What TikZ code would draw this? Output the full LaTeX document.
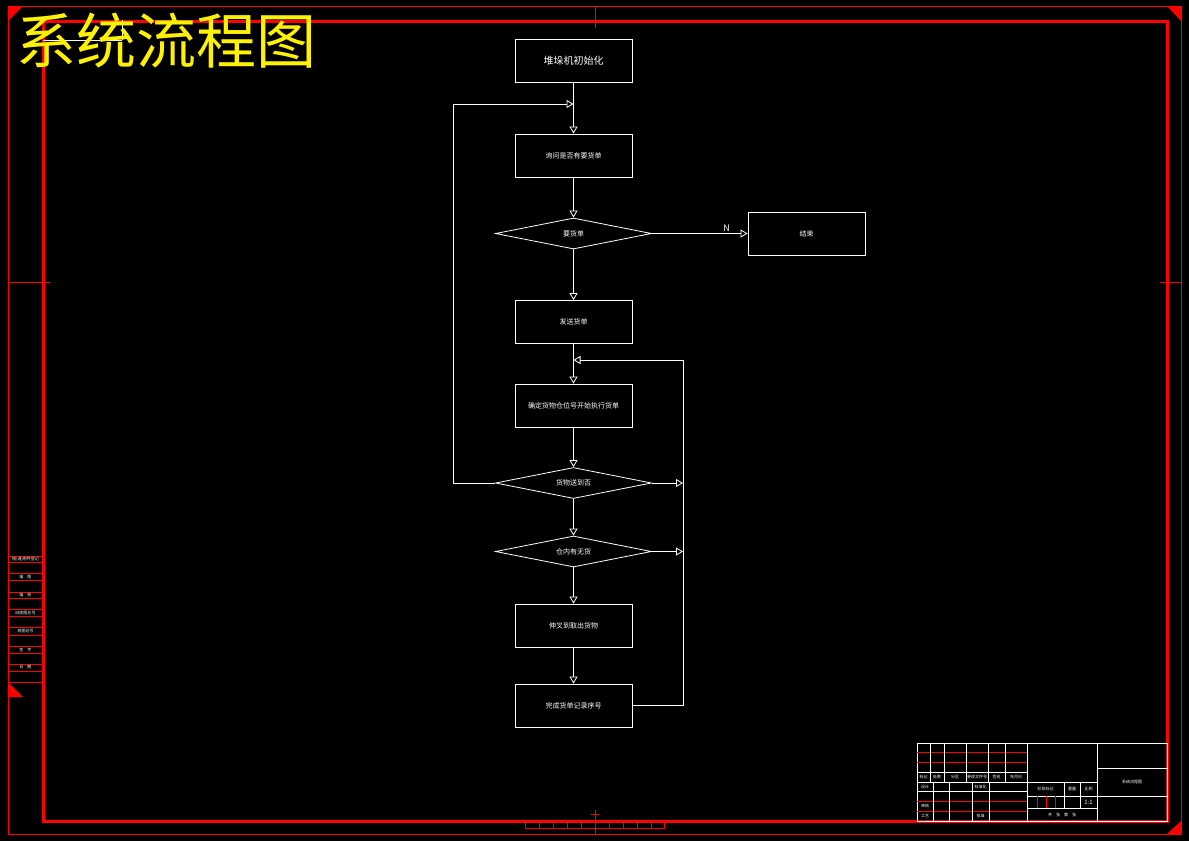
\documentclass[tikz,border=0pt]{standalone}
\usepackage{fontspec}
\setmainfont{Noto Sans CJK SC}
\usetikzlibrary{shapes.geometric,arrows.meta}
\tikzset{
  wl/.style={draw=white, line width=0.8pt},
  boxn/.style={draw=white, line width=0.8pt, rectangle, minimum width=117pt, minimum height=43pt, inner sep=0pt, text=white, font=\fontsize{7}{8}\selectfont},
  decn/.style={draw=white, line width=0.8pt, diamond, aspect=5, minimum width=156pt, minimum height=31pt, inner sep=0pt, text=white, font=\fontsize{7}{8}\selectfont},
  arr/.style={draw=white, line width=0.8pt, -{Triangle[open,length=7pt,width=8pt]}},
  thinred/.style={draw=red, line width=1pt},
  thickred/.style={draw=red, line width=3pt},
  redl/.style={draw=red, line width=0.8pt},
  tb/.style={text=white, font=\fontsize{4}{4}\selectfont, inner sep=0pt}
}
\begin{document}
\begin{tikzpicture}[x=1pt,y=-1pt]
\useasboundingbox (0,0) rectangle (1189,841);
\fill[black] (0,0) rectangle (1189,841);
% outer thin frame
\draw[thinred] (8,6) rectangle (1181,834);
% inner thick frame
\draw[thickred] (43,21) rectangle (1167,821);
% corner triangles
\fill[red] (8,6) -- (23,6) -- (8,21) -- cycle;
\fill[red] (1181,6) -- (1167,6) -- (1181,21) -- cycle;
\fill[red] (1181,834) -- (1167,834) -- (1181,821) -- cycle;
\fill[red] (8,697) -- (8,682) -- (23,697) -- cycle;
% centre marks
\draw[redl] (595,6) -- (595,28);
\draw[redl] (8,282) -- (50,282);
\draw[redl] (1160,282) -- (1181,282);
\draw[redl] (595,810) -- (595,834);
\draw[redl] (591,814) -- (599,814);
% bottom ruler
\draw[redl] (525,821) -- (525,828) -- (664,828) -- (664,821);
\foreach \x in {539,553,567,581,609,623,637,651} \draw[redl] (\x,821) -- (\x,828);
% small artifact top-left
\draw[wl] (43,40) -- (122,40);
\draw[wl] (122,20) -- (122,40);
% title
\node[anchor=west, text=yellow, inner sep=0pt, font=\fontsize{60}{60}\selectfont] at (16,41) {系统流程图};
% left side table
\foreach \y in {556,562,573,580,592,598,609,616,627,635,646,653,664,671,682} \draw[redl] (8,\y) -- (43,\y);
\node[tb] at (25.5,559) {借(通)用件登记};
\node[tb] at (25.5,576.5) {描\quad 图};
\node[tb] at (25.5,595) {描\quad 校};
\node[tb] at (25.5,612.5) {旧底图总号};
\node[tb] at (25.5,631) {底图总号};
\node[tb] at (25.5,649.5) {签\quad 字};
\node[tb] at (25.5,667.5) {日\quad 期};
% title block
\draw[wl] (917,743) rectangle (1167,821);
\foreach \y in {752,762} \draw[redl] (917,\y) -- (1027,\y);
\foreach \y in {801,811} \draw[redl] (917,\y) -- (1027,\y);
\draw[wl] (917,772) -- (1027,772);
\draw[wl] (917,782) -- (1027,782);
\draw[wl] (917,791) -- (1027,791);
\foreach \x in {930,944,966,988,1005} \draw[wl] (\x,743) -- (\x,782);
\foreach \x in {933,949,972,989} \draw[wl] (\x,782) -- (\x,821);
\draw[wl] (1027,743) -- (1027,821);
\draw[wl] (1097,743) -- (1097,821);
\draw[wl] (1097,768) -- (1167,768);
\draw[wl] (1097,796) -- (1167,796);
\draw[wl] (1027,782) -- (1097,782);
\draw[wl] (1027,796) -- (1097,796);
\draw[wl] (1027,808) -- (1097,808);
\draw[wl] (1064,782) -- (1064,808);
\draw[wl] (1080,782) -- (1080,808);
\foreach \x in {1037,1046,1055} \draw[redl] (\x,796) -- (\x,808);
\node[tb] at (923.5,777) {标记};
\node[tb] at (937,777) {处数};
\node[tb] at (955,777) {分区};
\node[tb] at (977,777) {更改文件号};
\node[tb] at (996.5,777) {签名};
\node[tb] at (1016,777) {年月日};
\node[tb] at (925,786.5) {设计};
\node[tb] at (980.5,786.5) {标准化};
\node[tb] at (925,806) {审核};
\node[tb] at (925,816) {工艺};
\node[tb] at (980.5,816) {批准};
\node[tb] at (1045.5,789) {阶段标记};
\node[tb] at (1072,789) {重量};
\node[tb] at (1088.5,789) {比例};
\node[text=white, inner sep=0pt, font=\fontsize{6}{6}\selectfont] at (1088.5,802) {1:1};
\node[tb] at (1062,814.5) {共\quad 张\quad 第\quad 张};
\node[tb] at (1132,782) {系统流程图};
% flowchart
\node[boxn, font=\fontsize{10}{11}\selectfont] (b1) at (573.5,61) {堆垛机初始化};
\node[boxn] (b2) at (573.5,155.5) {询问是否有要货单};
\node[decn] (d1) at (573.5,233.5) {要货单};
\node[boxn] (e) at (806.5,233.5) {结束};
\node[boxn] (b3) at (573.5,322) {发送货单};
\node[boxn] (b4) at (573.5,405.5) {确定货物仓位号开始执行货单};
\node[decn] (d2) at (573.5,483) {货物送到否};
\node[decn] (d3) at (573.5,551.5) {仓内有无货};
\node[boxn] (b5) at (573.5,625.5) {伸叉到取出货物};
\node[boxn] (b6) at (573.5,705.5) {完成货单记录序号};
\coordinate (la) at (453,483);
\coordinate (lb) at (453,104);
\coordinate (lj) at (573.5,104);
\coordinate (ra) at (683,705.5);
\coordinate (rb) at (683,360);
\coordinate (rj) at (573.5,360);
\coordinate (r2) at (683,483);
\coordinate (r3) at (683,551.5);
\draw[arr] (b1) -- (b2);
\draw[arr] (b2) -- (d1);
\draw[arr] (d1) -- node[pos=0.78, above, text=white, inner sep=1.5pt, font=\fontsize{9}{9}\selectfont] {N} (e);
\draw[arr] (d1) -- (b3);
\draw[arr] (b3) -- (b4);
\draw[arr] (b4) -- (d2);
\draw[arr] (d2) -- (d3);
\draw[arr] (d3) -- (b5);
\draw[arr] (b5) -- (b6);
\draw[arr] (d2.west) -- (la) -- (lb) -- (lj);
\draw[arr] (b6.east) -- (ra) -- (rb) -- (rj);
\draw[arr] (d2.east) -- (r2);
\draw[arr] (d3.east) -- (r3);
\end{tikzpicture}
\end{document}
